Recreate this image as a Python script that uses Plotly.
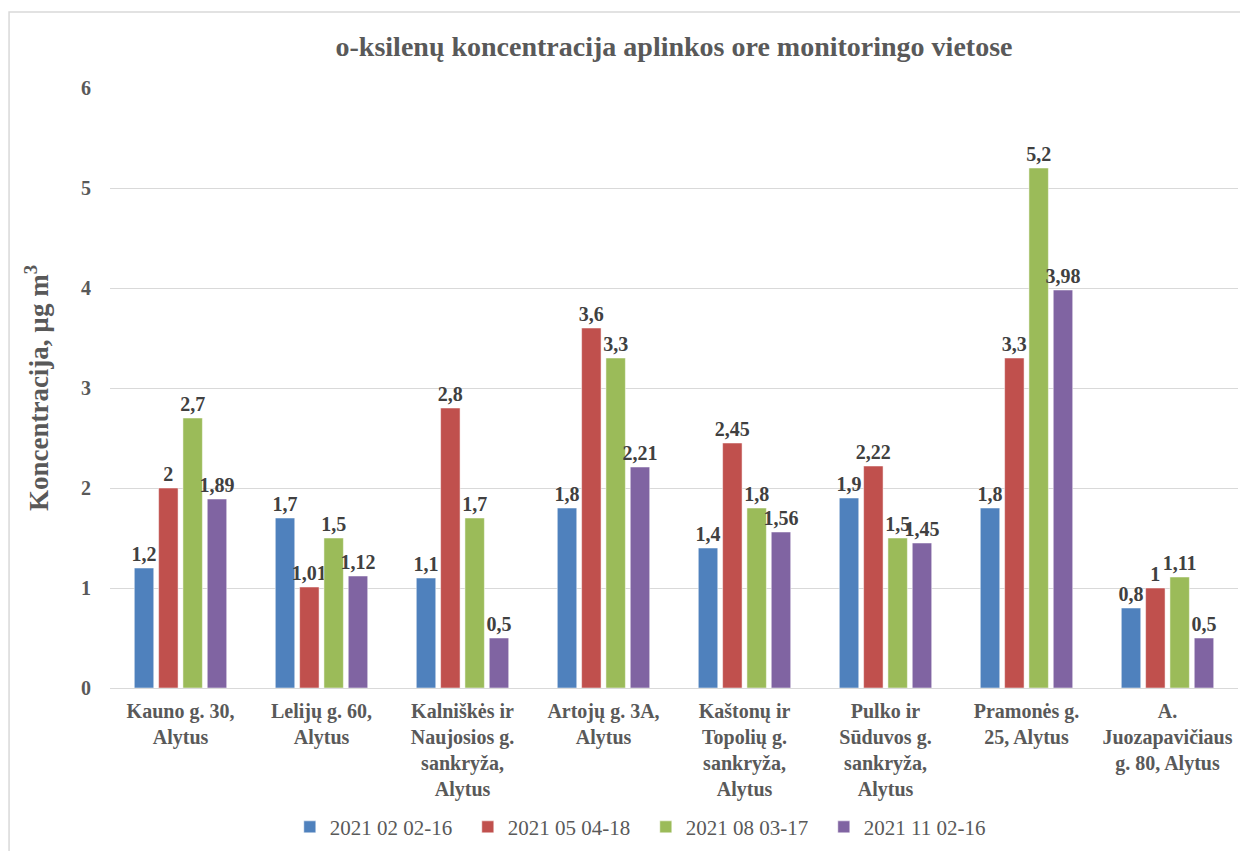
import plotly.graph_objects as go

categories = [
    "Kauno g. 30,<br>Alytus",
    "Lelijų g. 60,<br>Alytus",
    "Kalniškės ir<br>Naujosios g.<br>sankryža,<br>Alytus",
    "Artojų g. 3A,<br>Alytus",
    "Kaštonų ir<br>Topolių g.<br>sankryža,<br>Alytus",
    "Pulko ir<br>Sūduvos g.<br>sankryža,<br>Alytus",
    "Pramonės g.<br>25, Alytus",
    "A.<br>Juozapavičiaus<br>g. 80, Alytus",
]
series_names = ["2021 02 02-16", "2021 05 04-18", "2021 08 03-17", "2021 11 02-16"]
s1 = [1.2, 1.7, 1.1, 1.8, 1.4, 1.9, 1.8, 0.8]
s2 = [2, 1.01, 2.8, 3.6, 2.45, 2.22, 3.3, 1]
s3 = [2.7, 1.5, 1.7, 3.3, 1.8, 1.5, 5.2, 1.11]
s4 = [1.89, 1.12, 0.5, 2.21, 1.56, 1.45, 3.98, 0.5]
colors = ["#4F81BD", "#C0504D", "#9BBB59", "#8064A2"]

FONT = "Liberation Serif"
GRAY = "#595959"

def fmt(v):
    return ("%g" % v).replace(".", ",")

fig = go.Figure()
for name, vals, col in zip(series_names, [s1, s2, s3, s4], colors):
    fig.add_trace(go.Bar(
        x=categories, y=vals, name=name + "\u00a0" * 2,
        marker=dict(color=col, line=dict(color="white", width=0.5)),
        text=[fmt(v) for v in vals], textposition="outside",
        texttemplate="<b>%{text}</b>", constraintext="none",
        textfont=dict(family=FONT, size=20, color="#404040"),
        cliponaxis=False,
    ))

fig.update_layout(
    width=1240, height=843,
    paper_bgcolor="white", plot_bgcolor="white",
    margin=dict(l=102, r=10, t=80, b=163, autoexpand=False),
    barmode="group", bargap=0.31, bargroupgap=0.2,
    font=dict(family=FONT, color=GRAY),
    title=dict(text="<b>o-ksilenų koncentracija aplinkos ore monitoringo vietose</b>",
               x=0.5, xref="paper", xanchor="center", y=0.955, yanchor="middle",
               font=dict(family=FONT, size=28, color=GRAY)),
    legend=dict(orientation="h", x=0.475, xanchor="center", y=-0.232, yanchor="middle",
                font=dict(family=FONT, size=21, color=GRAY),
                itemwidth=30, traceorder="normal"),
    xaxis=dict(tickfont=dict(family=FONT, size=20, color=GRAY), automargin=False,
               tickprefix="<b>", ticksuffix="</b>", ticklabelstandoff=5,
               showline=True, linecolor="#d9d9d9", linewidth=1, ticks=""),
    yaxis=dict(range=[0, 6], dtick=1, showgrid=True, gridcolor="#d9d9d9", gridwidth=1,
               zeroline=False, showline=False, ticks="", automargin=False,
               tickprefix="<b>", ticksuffix="</b>",
               tickfont=dict(family=FONT, size=20, color=GRAY),
               ticklabelstandoff=18,
               title=dict(text="<b>Koncentracija, µg m<sup>3</sup></b>",
                          font=dict(family=FONT, size=27, color=GRAY), standoff=24)),
)

fig.add_shape(type="rect", xref="paper", yref="paper",
              x0=-0.0895, x1=1.03, y0=-0.6, y1=1.1267,
              line=dict(color="#d9d9d9", width=1.5), fillcolor="rgba(0,0,0,0)", layer="below")

fig.write_html("out.html")
